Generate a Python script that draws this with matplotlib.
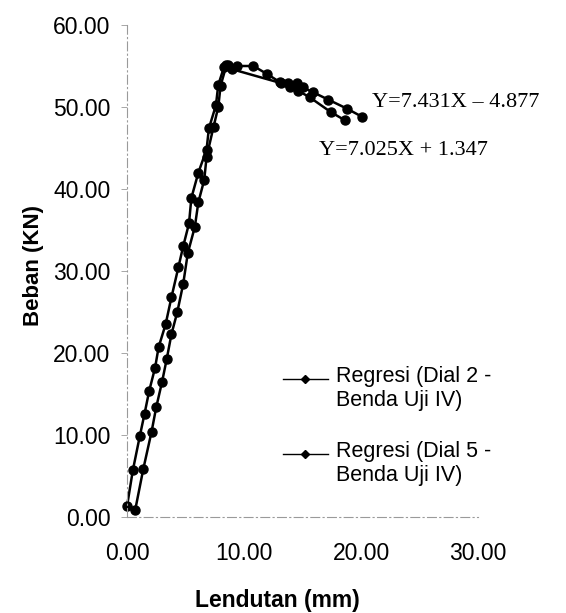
import matplotlib
matplotlib.use("Agg")
import matplotlib.pyplot as plt

plt.rcParams['font.family'] = ['Liberation Sans', 'DejaVu Sans']

# Load-deflection readings, Dial 2
dial2_x = [0.0, 0.5, 1.1, 1.5, 1.9, 2.4, 2.7, 3.3, 3.8, 4.4, 4.8, 5.3, 5.5, 6.1,
           6.8, 7.0, 7.6, 7.8, 8.3, 8.6, 9.4, 10.8, 12.0, 13.1, 13.8, 14.5, 15.0,
           15.9, 17.2, 18.8, 20.1]
dial2_y = [1.3, 5.7, 9.9, 12.6, 15.4, 18.2, 20.7, 23.5, 26.8, 30.5, 33.0, 35.8,
           38.9, 42.0, 44.8, 47.4, 50.2, 52.7, 54.9, 55.1, 55.0, 55.0, 54.0, 53.0,
           52.9, 52.9, 52.4, 51.8, 50.9, 49.8, 48.8]

# Load-deflection readings, Dial 5
dial5_x = [0.7, 1.4, 2.1, 2.5, 3.0, 3.4, 3.8, 4.3, 4.8, 5.2, 5.8, 6.1, 6.6, 6.8,
           7.4, 7.8, 8.0, 8.5, 9.0, 13.2, 13.9, 14.6, 15.6, 17.4, 18.6]
dial5_y = [0.85, 5.9, 10.4, 13.4, 16.5, 19.3, 22.3, 25.0, 28.4, 32.2, 35.4, 38.4,
           41.1, 43.9, 47.6, 50.0, 52.6, 55.1, 54.6, 52.9, 52.5, 52.0, 51.2, 49.4,
           48.4]

x_ticks = [0, 10, 20, 30]
y_ticks = [0, 10, 20, 30, 40, 50, 60]
series_labels = ["Regresi (Dial 2 -\nBenda Uji IV)", "Regresi (Dial 5 -\nBenda Uji IV)"]
equations = ["Y=7.431X \u2013 4.877", "Y=7.025X + 1.347"]

fig = plt.figure(figsize=(5.66, 6.13), dpi=100)
ax = fig.add_axes([127 / 566, 1 - 517 / 613, 351 / 566, 492 / 613])

for xs, ys in [(dial2_x, dial2_y), (dial5_x, dial5_y)]:
    ax.plot(xs, ys, color='black', lw=1.8, marker='o', markersize=6.5,
            markerfacecolor='black', markeredgecolor='black', clip_on=False)

ax.set_xlim(0, 30)
ax.set_ylim(0, 60)
ax.set_xticks(x_ticks)
ax.set_yticks(y_ticks)
ax.set_xticklabels([f"{v:.2f}" for v in x_ticks])
ax.set_yticklabels([f"{v:.2f}" for v in y_ticks])
ax.tick_params(axis='x', length=0, pad=18, labelsize=16.5)
ax.tick_params(axis='y', length=4, width=0.6, color='#999999', pad=8, labelsize=16.5)

for side in ['top', 'right']:
    ax.spines[side].set_visible(False)
for side in ['left', 'bottom']:
    ax.spines[side].set_color('#9a9a9a')
    ax.spines[side].set_linewidth(0.8)
    ax.spines[side].set_linestyle((0, (8, 3, 1, 3)))

# Regression equations
ax.text(20.9, 50.6, equations[0], family=['Liberation Serif'], fontsize=16,
        va='center', ha='left')
ax.text(16.4, 44.7, equations[1], family=['Liberation Serif'], fontsize=16,
        va='center', ha='left')

# Legend
leg_x0, leg_x1, leg_text = 0.444, 0.573, 0.596
for ly, label in zip([0.281, 0.128], series_labels):
    ax.plot([leg_x0, leg_x1], [ly, ly], transform=ax.transAxes, color='black',
            lw=1.0, clip_on=False)
    ax.plot([(leg_x0 + leg_x1) / 2], [ly], transform=ax.transAxes, color='black',
            marker='D', markersize=4.5, clip_on=False)
    ax.text(leg_text, ly + 0.026, label, transform=ax.transAxes, fontsize=15.5,
            va='top', ha='left', linespacing=1.2)

fig.text(34 / 566, 1 - 266 / 613, "Beban (KN)", rotation=90, ha='center',
         va='center', fontsize=16, fontweight='bold')
fig.text(277 / 566, 1 - 600 / 613, "Lendutan (mm)", ha='center', va='center',
         fontsize=16.5, fontweight='bold')

fig.savefig("out.png", dpi=100)
